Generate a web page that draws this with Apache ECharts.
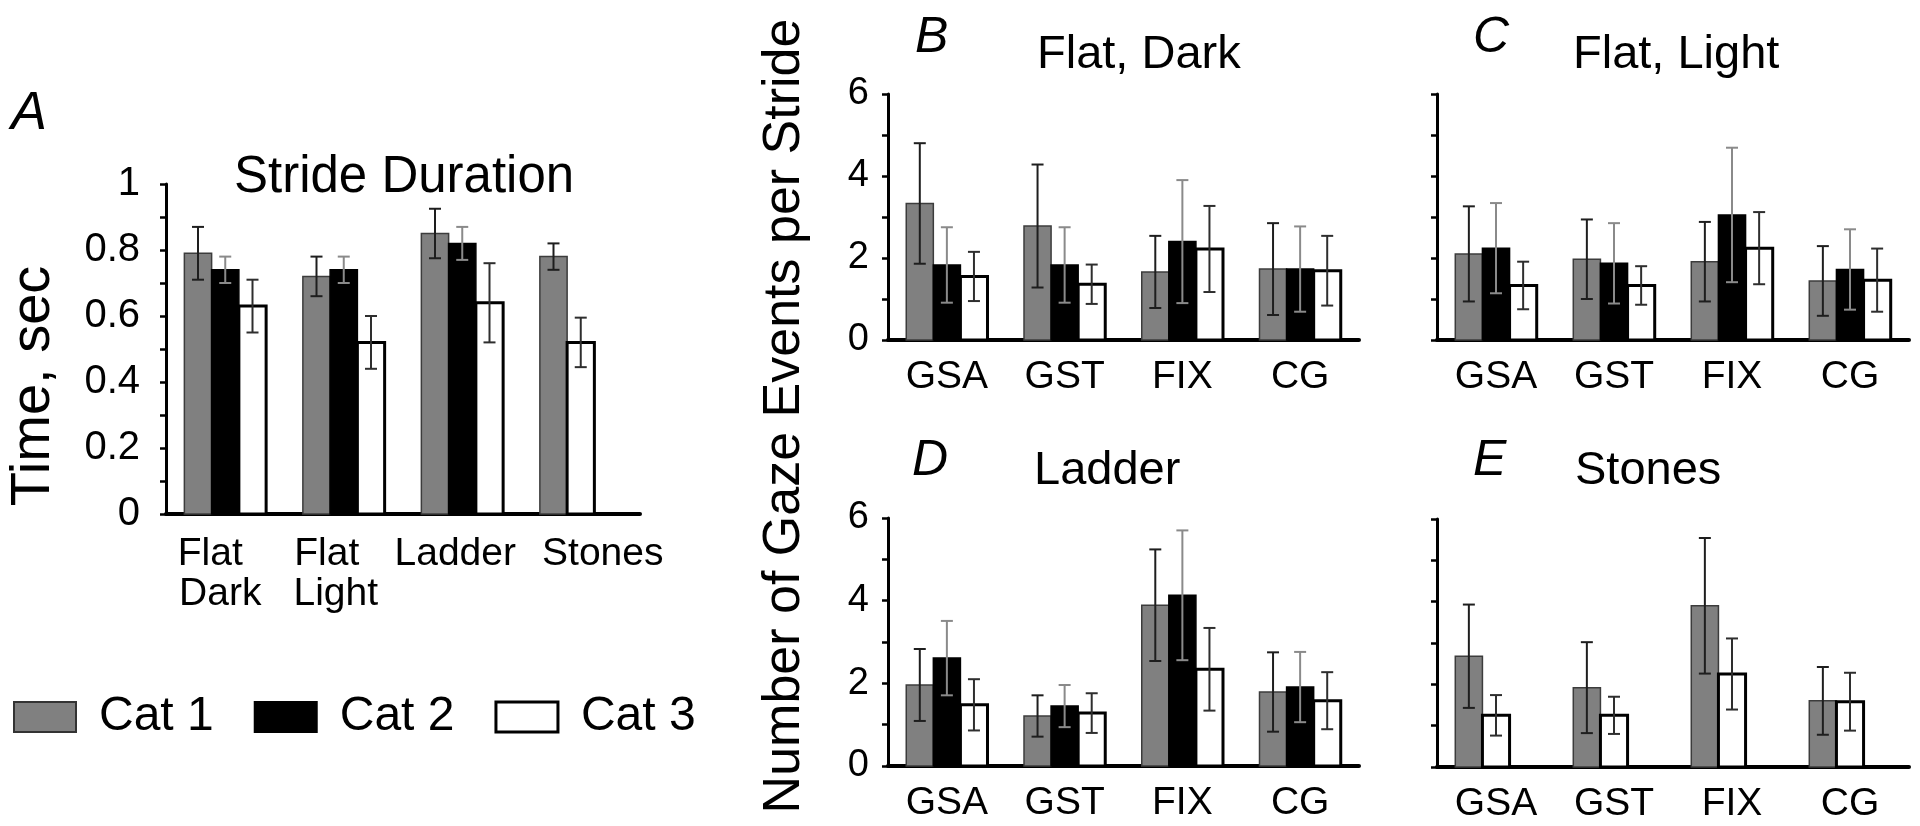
<!DOCTYPE html>
<html>
<head>
<meta charset="utf-8">
<script src="https://cdn.jsdelivr.net/npm/echarts@6/dist/echarts.min.js"></script>
<style>
html,body{margin:0;padding:0;background:#fff;}
#c{width:1920px;height:826px;}
</style>
</head>
<body>
<div id="c"></div>
<script>
// ---------- data ----------
const seriesNames = ['Cat 1', 'Cat 2', 'Cat 3'];
const strideCats = ['Flat\nDark', 'Flat\nLight', 'Ladder', 'Stones'];
const gazeCats = ['GSA', 'GST', 'FIX', 'CG'];

// Panel A: Stride Duration (sec)
const strideCat1 = [0.79, 0.72, 0.85, 0.78];
const strideCat1Err = [0.08, 0.06, 0.075, 0.04];
const strideCat2 = [0.74, 0.74, 0.82, null];
const strideCat2Err = [0.04, 0.04, 0.05, null];
const strideCat3 = [0.63, 0.52, 0.64, 0.52];
const strideCat3Err = [0.08, 0.08, 0.12, 0.075];

// Panel B: Flat, Dark
const flatDarkCat1 = [3.33, 2.78, 1.66, 1.73];
const flatDarkCat1Err = [1.47, 1.5, 0.88, 1.12];
const flatDarkCat2 = [1.83, 1.83, 2.4, 1.73];
const flatDarkCat2Err = [0.92, 0.92, 1.5, 1.04];
const flatDarkCat3 = [1.55, 1.36, 2.22, 1.69];
const flatDarkCat3Err = [0.6, 0.48, 1.05, 0.85];

// Panel C: Flat, Light
const flatLightCat1 = [2.1, 1.97, 1.91, 1.44];
const flatLightCat1Err = [1.16, 0.97, 0.97, 0.85];
const flatLightCat2 = [2.24, 1.87, 3.05, 1.72];
const flatLightCat2Err = [1.1, 0.98, 1.64, 0.98];
const flatLightCat3 = [1.33, 1.33, 2.24, 1.46];
const flatLightCat3Err = [0.58, 0.47, 0.88, 0.77];

// Panel D: Ladder
const ladderCat1 = [1.96, 1.21, 3.89, 1.79];
const ladderCat1Err = [0.87, 0.5, 1.35, 0.96];
const ladderCat2 = [2.61, 1.45, 4.13, 1.91];
const ladderCat2Err = [0.9, 0.51, 1.57, 0.85];
const ladderCat3 = [1.48, 1.28, 2.34, 1.58];
const ladderCat3Err = [0.62, 0.48, 1.0, 0.69];

// Panel E: Stones
const stonesCat1 = [2.68, 1.92, 3.9, 1.6];
const stonesCat1Err = [1.25, 1.1, 1.64, 0.82];
const stonesCat2 = [null, null, null, null];
const stonesCat2Err = [null, null, null, null];
const stonesCat3 = [1.25, 1.25, 2.25, 1.58];
const stonesCat3Err = [0.49, 0.45, 0.86, 0.7];

const strideTicks = ['0', '0.2', '0.4', '0.6', '0.8', '1'];
const gazeTicks = ['0', '2', '4', '6'];

// ---------- styling ----------
const FONT = "'Liberation Sans', Arial, sans-serif";
const fills = ['#808080', '#000000', '#ffffff'];
const strokes = ['#3c3c3c', '#000000', '#000000'];
const strokeW = [1.5, 1.5, 3];
const errColors = ['#1e1e1e', '#8a8a8a', '#2e2e2e'];
const BAR_FRAC = 0.23;

// small horizontal nudges (px) of the panel-A category label lines, as in the original
const strideLabelShift = [[-15, -5], [-17, -8], [-7], [22]];

const panels = [
  { cats: strideCats, vals: [strideCat1, strideCat2, strideCat3], errs: [strideCat1Err, strideCat2Err, strideCat3Err],
    grid: { left: 166, top: 184, width: 474, height: 330 }, max: 1, interval: 0.1, ticks: strideTicks,
    tickFont: 40, labelMargin: 26, catFont: 39 },
  { cats: gazeCats, vals: [flatDarkCat1, flatDarkCat2, flatDarkCat3], errs: [flatDarkCat1Err, flatDarkCat2Err, flatDarkCat3Err],
    grid: { left: 888, top: 94, width: 471, height: 246 }, max: 6, interval: 1, ticks: gazeTicks,
    tickFont: 38, labelMargin: 19, catFont: 39 },
  { cats: gazeCats, vals: [flatLightCat1, flatLightCat2, flatLightCat3], errs: [flatLightCat1Err, flatLightCat2Err, flatLightCat3Err],
    grid: { left: 1437, top: 94, width: 472, height: 246 }, max: 6, interval: 1, ticks: null,
    tickFont: 38, labelMargin: 19, catFont: 39 },
  { cats: gazeCats, vals: [ladderCat1, ladderCat2, ladderCat3], errs: [ladderCat1Err, ladderCat2Err, ladderCat3Err],
    grid: { left: 888, top: 518, width: 471, height: 248 }, max: 6, interval: 1, ticks: gazeTicks,
    tickFont: 38, labelMargin: 19, catFont: 39 },
  { cats: gazeCats, vals: [stonesCat1, stonesCat2, stonesCat3], errs: [stonesCat1Err, stonesCat2Err, stonesCat3Err],
    grid: { left: 1437, top: 519, width: 472, height: 248 }, max: 6, interval: 1, ticks: null,
    tickFont: 38, labelMargin: 19, catFont: 39 }
];

function makeRenderer(panel, sIdx) {
  return function (params, api) {
    const ci = api.value(0);
    const v = api.value(1);
    const e = api.value(2);
    const catW = api.size([1, 0])[0];
    const bw = catW * BAR_FRAC;
    const base = api.coord([ci, 0]);
    let pos = 0;
    for (let k = 0; k < sIdx; k++) if (panel.vals[k][ci] != null) pos++;
    const x0 = base[0] - 1.5 * bw + pos * bw;
    const top = api.coord([ci, v])[1];
    const hi = api.coord([ci, v + e])[1];
    const lo = api.coord([ci, v - e])[1];
    const xc = x0 + bw / 2;
    const cap = 6;
    const ls = { stroke: errColors[sIdx], lineWidth: 2 };
    return {
      type: 'group',
      children: [
        { type: 'rect', shape: { x: x0, y: top, width: bw, height: base[1] - top },
          style: { fill: fills[sIdx], stroke: strokes[sIdx], lineWidth: strokeW[sIdx] } },
        { type: 'line', shape: { x1: xc, y1: hi, x2: xc, y2: lo }, style: ls },
        { type: 'line', shape: { x1: xc - cap, y1: hi, x2: xc + cap, y2: hi }, style: ls },
        { type: 'line', shape: { x1: xc - cap, y1: lo, x2: xc + cap, y2: lo }, style: ls }
      ]
    };
  };
}

// rich styles for nudged labels
const strideRich = {};
strideLabelShift.forEach(lines => lines.forEach(d => {
  const key = 'p' + (d < 0 ? 'm' + (-d) : d);
  strideRich[key] = { fontSize: 39, fontFamily: FONT, color: '#000', lineHeight: 40,
    padding: d < 0 ? [0, -2 * d, 0, 0] : [0, 0, 0, 2 * d] };
}));
function strideLabel(val, idx) {
  const lines = val.split('\n');
  return lines.map((ln, k) => {
    const d = strideLabelShift[idx][k];
    const key = 'p' + (d < 0 ? 'm' + (-d) : d);
    return '{' + key + '|' + ln + '}';
  }).join('\n');
}

const grids = [], xAxes = [], yAxes = [], series = [];
panels.forEach((p, gi) => {
  grids.push(Object.assign({ containLabel: false }, p.grid));
  const xl = { color: '#000', fontFamily: FONT, fontSize: p.catFont, margin: gi === 0 ? 20 : 18, interval: 0 };
  if (gi === 0) { xl.formatter = strideLabel; xl.rich = strideRich; xl.lineHeight = 40; }
  xAxes.push({
    type: 'category', gridIndex: gi, data: p.cats,
    axisLine: { lineStyle: { color: '#000', width: 4 } },
    axisTick: { show: false },
    axisLabel: xl
  });
  yAxes.push({
    type: 'value', gridIndex: gi, min: 0, max: p.max, interval: p.interval,
    splitLine: { show: false },
    axisLine: { show: true, lineStyle: { color: '#000', width: 3 } },
    axisTick: { show: true, length: 6, lineStyle: { color: '#000', width: 2.5 } },
    axisLabel: {
      show: !!p.ticks, color: '#000', fontFamily: FONT, fontSize: p.tickFont, margin: p.labelMargin,
      formatter: function (val) {
        if (!p.ticks) return '';
        const step = Math.round(val / p.interval);
        if (step % 2 !== 0) return '';
        return p.ticks[step / 2];
      }
    }
  });
  for (let s = 0; s < 3; s++) {
    const data = [];
    p.vals[s].forEach((v, i) => { if (v != null) data.push([i, v, p.errs[s][i]]); });
    if (!data.length) continue;
    series.push({
      type: 'custom', name: seriesNames[s], xAxisIndex: gi, yAxisIndex: gi,
      renderItem: makeRenderer(p, s), data: data, clip: false,
      encode: { x: 0, y: 1 },
      itemStyle: { color: fills[s], borderColor: strokes[s] }
    });
  }
});

function txt(x, y, text, size, opts) {
  return Object.assign({
    type: 'text', x: x, y: y,
    style: Object.assign({ text: text, fill: '#000', font: (opts && opts.italic ? 'italic ' : '') + size + 'px ' + FONT,
      textAlign: 'left', textVerticalAlign: 'middle' }, opts && opts.style)
  }, opts && opts.el);
}

const graphics = [
  txt(11, 114, 'A', 54, { italic: true }),
  txt(234, 178, 'Stride Duration', 51),
  txt(915, 38, 'B', 50, { italic: true }),
  txt(1037, 55, 'Flat, Dark', 47),
  txt(1473, 38, 'C', 50, { italic: true }),
  txt(1573, 55, 'Flat, Light', 47),
  txt(912, 461, 'D', 50, { italic: true }),
  txt(1034, 471, 'Ladder', 47),
  txt(1473, 461, 'E', 50, { italic: true }),
  txt(1575, 471, 'Stones', 47),
  txt(34, 386, 'Time, sec', 56, { style: { textAlign: 'center' }, el: { rotation: Math.PI / 2 } }),
  txt(785, 416, 'Number of Gaze Events per Stride', 52, { style: { textAlign: 'center' }, el: { rotation: Math.PI / 2 } })
];

const chart = echarts.init(document.getElementById('c'), null, { renderer: 'canvas' });
chart.setOption({
  backgroundColor: '#fff',
  animation: false,
  grid: grids,
  xAxis: xAxes,
  yAxis: yAxes,
  series: series,
  graphic: graphics,
  legend: {
    left: 8, top: 688, orient: 'horizontal', itemWidth: 62, itemHeight: 30, itemGap: 40,
    selectedMode: false,
    textStyle: { color: '#000', fontFamily: FONT, fontSize: 48, padding: [0, 0, 0, 18] },
    data: [
      { name: 'Cat 1', icon: 'rect', itemStyle: { color: fills[0], borderColor: '#333', borderWidth: 2 } },
      { name: 'Cat 2', icon: 'rect', itemStyle: { color: fills[1], borderColor: '#000', borderWidth: 2 } },
      { name: 'Cat 3', icon: 'rect', itemStyle: { color: fills[2], borderColor: '#000', borderWidth: 3 } }
    ]
  }
});
</script>
</body>
</html>
